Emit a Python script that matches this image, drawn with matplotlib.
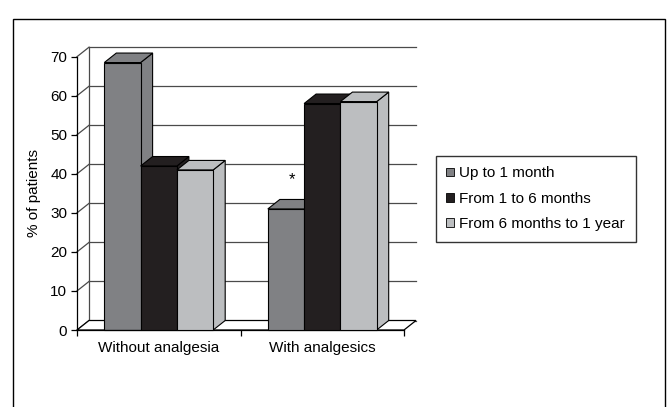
import matplotlib
matplotlib.use("Agg")
import matplotlib.pyplot as plt
from matplotlib.patches import Polygon, Rectangle, Patch

plt.rcParams['font.family'] = ['Liberation Sans', 'DejaVu Sans']
plt.rcParams['font.size'] = 11

categories = ['Without analgesia', 'With analgesics']
series_names = ['Up to 1 month', 'From 1 to 6 months', 'From 6 months to 1 year']
up_to_1_month = [68.5, 31]
from_1_to_6_months = [42, 58]
from_6_months_to_1_year = [41, 58.5]
significant = [(1, 0)]  # (category, series) marked with an asterisk
yticks = [0, 10, 20, 30, 40, 50, 60, 70]

values = [up_to_1_month, from_1_to_6_months, from_6_months_to_1_year]
colors = ['#808184', '#231f20', '#bcbec0']
grid_color = '#4a4a4a'
DX, DY = 12, 9.5        # depth of the 3-D box, pixels
BAR_W = 0.222           # in category units

fig = plt.figure(figsize=(6.72, 4.07), dpi=100)
ax = fig.add_axes([77 / 672, 77 / 407, 327 / 672, 273.3 / 407])
ax.set_xlim(0, len(categories))
ax.set_ylim(0, 70)

# depth offset expressed in data units
ox, oy = ax.transData.transform((0, 0))
ddx, ddy = ax.transData.inverted().transform((ox + DX, oy + DY))
xmax = len(categories)

# back wall and side wall gridlines
for v in yticks:
    ax.plot([ddx, xmax + ddx], [v + ddy, v + ddy], color=grid_color, lw=0.9,
            clip_on=False, zorder=1)
    ax.plot([0, ddx], [v, v + ddy], color=grid_color, lw=0.9,
            clip_on=False, zorder=1)
ax.plot([ddx, ddx], [ddy, 70 + ddy], color=grid_color, lw=0.9,
        clip_on=False, zorder=1)

# floor
ax.add_patch(Polygon([(0, 0), (xmax, 0), (xmax + ddx, ddy), (ddx, ddy)],
                     closed=True, facecolor='white', edgecolor='black',
                     lw=0.9, clip_on=False, zorder=1.5))

# bars: side and top faces, then the front drawn with ax.bar
z = 2
for i in range(len(categories)):
    for j, vals in enumerate(values):
        x0 = i + 0.5 + (j - 1.5) * BAR_W
        x1 = x0 + BAR_W
        v = vals[i]
        side = Polygon([(x1, 0), (x1 + ddx, ddy), (x1 + ddx, v + ddy), (x1, v)],
                       closed=True, facecolor=colors[j], edgecolor='black',
                       lw=0.8, clip_on=False, zorder=z)
        top = Polygon([(x0, v), (x1, v), (x1 + ddx, v + ddy), (x0 + ddx, v + ddy)],
                      closed=True, facecolor=colors[j], edgecolor='black',
                      lw=0.8, clip_on=False, zorder=z)
        ax.add_patch(side)
        ax.add_patch(top)
        bars = ax.bar([x0], [v], width=BAR_W, align='edge', color=colors[j],
                      edgecolor='black', lw=0.8, zorder=z + 0.5)
        bars.patches[0].set_clip_on(False)
        z += 1

for ci, sj in significant:
    xc = ci + 0.5 + (sj - 1) * BAR_W
    ax.text(xc + ddx / 2, values[sj][ci] + 7.5, '*', ha='center', va='center',
            fontsize=12)

# axes styling
for s in ('top', 'right'):
    ax.spines[s].set_visible(False)
ax.spines['left'].set_linewidth(0.9)
ax.spines['bottom'].set_linewidth(0.9)
ax.spines['left'].set_zorder(50)
ax.set_yticks(yticks)
ax.tick_params(axis='y', direction='out', length=4, width=0.9, pad=3)
ax.set_xticks(range(xmax + 1))
ax.set_xticklabels([])
ax.tick_params(axis='x', which='major', direction='out', length=4, width=0.9)
ax.set_xticks([i + 0.5 for i in range(len(categories))], minor=True)
ax.set_xticklabels(categories, minor=True)
ax.tick_params(axis='x', which='minor', length=0, pad=8)
ax.set_ylabel('% of patients', labelpad=7)
ax.patch.set_visible(False)

handles = [Patch(facecolor=c, edgecolor='black', lw=0.6) for c in colors]
leg = fig.legend(handles, series_names, loc='upper left',
                 bbox_to_anchor=(435.7 / 672, 1 - 155.7 / 407),
                 borderaxespad=0, frameon=True, fancybox=False,
                 edgecolor='black', handlelength=0.5, handleheight=0.5,
                 handletextpad=0.35, labelspacing=0.74, borderpad=0.7)
leg.get_frame().set_linewidth(1.0)

# outer frame
fig.add_artist(Rectangle((13 / 672, -0.05), 652 / 672, 1.05 - 19 / 407,
                         transform=fig.transFigure, fill=False,
                         edgecolor='black', lw=1.0))

fig.savefig('out.png', dpi=100)
